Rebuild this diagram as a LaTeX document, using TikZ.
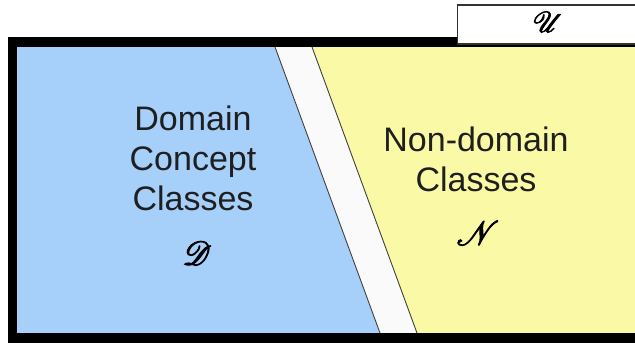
\documentclass[tikz,border=0pt]{standalone}
\usepackage{fontspec}
\usepackage{mathrsfs}
\usepackage{graphicx}
\setmainfont{Liberation Sans}
\definecolor{domblue}{RGB}{166,208,249}
\definecolor{nonyellow}{RGB}{250,250,166}
\definecolor{stripwhite}{RGB}{250,250,250}
% script letter, enlarged and stroked a little heavier
\newcommand{\bigscript}[3]{\special{pdf:literal direct 2 Tr #3 w}\scalebox{#1}{$\mathscr{#2}$}\special{pdf:literal direct 0 Tr}}
\tikzset{
  label text/.style={font=\fontsize{34}{40}\selectfont, align=center, text=black!88, inner sep=0pt},
  set symbol/.style={inner sep=0pt},
  edge line/.style={draw=black!75, line width=0.9pt},
}
\begin{document}
\begin{tikzpicture}[x=1pt, y=-1pt]
  \useasboundingbox (0,0) rectangle (635,344);
  % regions
  \fill[domblue] (17,47) -- (275,47) -- (380,333) -- (17,333) -- cycle;
  \fill[stripwhite] (275,47) -- (312,47) -- (417,333) -- (380,333) -- cycle;
  \fill[nonyellow] (312,47) -- (640,47) -- (640,333) -- (417,333) -- cycle;
  \coordinate (b1) at (275,47);
  \coordinate (b2) at (380,333);
  \coordinate (y1) at (312,47);
  \coordinate (y2) at (417,333);
  \draw[edge line] (b1) -- (b2);
  \draw[edge line] (y1) -- (y2);
  % outer frame
  \draw[line width=9.5pt, black] (650,42) -- (12.5,42) -- (12.5,338) -- (650,338);
  % universe tab
  \draw[fill=white, draw=black!80, line width=1.2pt] (457.5,44) rectangle (645,5);
  \node[set symbol] (U) at (548,22) {\bigscript{2.9}{U}{0.25}};
  % labels
  \node[label text] (dom) at (193,158) {Domain\\Concept\\Classes};
  \node[set symbol] (D) at (197,253) {\bigscript{3.3}{D}{0.3}};
  \node[label text] (non) at (476,159) {Non-domain\\Classes};
  \node[set symbol] (N) at (478,233) {\bigscript{3.4}{N}{0.3}};
\end{tikzpicture}
\end{document}
